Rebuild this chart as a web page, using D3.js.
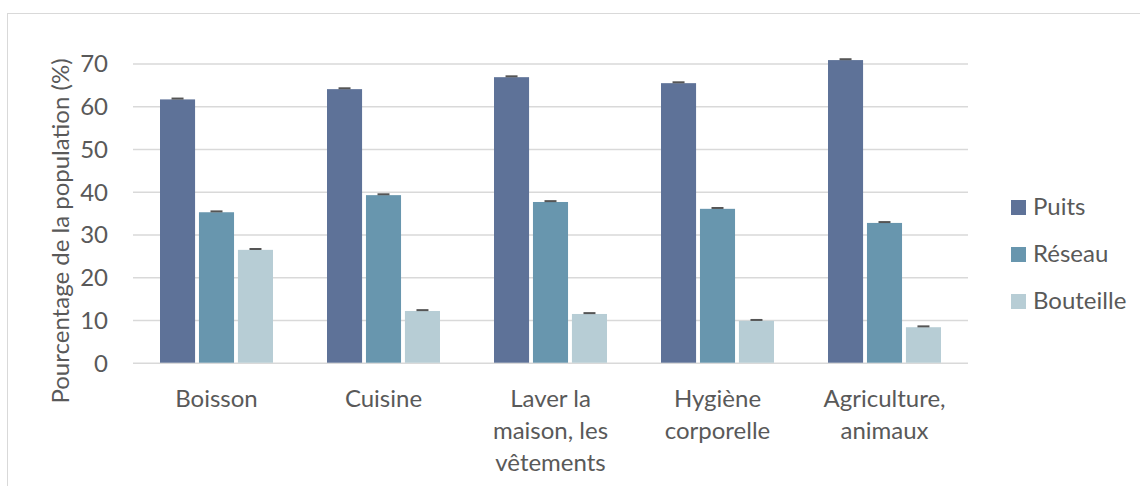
<!DOCTYPE html>
<html><head><meta charset="utf-8">
<script src="https://cdn.jsdelivr.net/npm/d3@7"></script>
<style>body{margin:0;background:#fff}svg{display:block}</style>
</head><body>
<svg id="c" width="1140" height="486"></svg>
<script>
const categories = ["Boisson", "Cuisine", "Laver la maison, les vêtements", "Hygiène corporelle", "Agriculture, animaux"];
const categoryLines = [["Boisson"], ["Cuisine"], ["Laver la", "maison, les", "vêtements"], ["Hygiène", "corporelle"], ["Agriculture,", "animaux"]];
const seriesNames = ["Puits", "Réseau", "Bouteille"];
const puits = [61.6, 64.0, 66.8, 65.4, 70.8];
const reseau = [35.2, 39.2, 37.6, 36.0, 32.7];
const bouteille = [26.4, 12.1, 11.4, 9.8, 8.3];
const errors = [0.2, 0.2, 0.2];
const yTicks = [0, 10, 20, 30, 40, 50, 60, 70];
const colors = ["#5e7298", "#6896ae", "#b7cdd5"];
const yTitle = "Pourcentage de la population (%)";

const seriesValues = [puits, reseau, bouteille];
const svg = d3.select("#c");
const FONT = "Lato, 'Open Sans', sans-serif";
const FS = "24px";
const textColor = "#595959";

// frame
svg.append("rect").attr("x", 7.5).attr("y", 13.5).attr("width", 1150).attr("height", 500)
  .attr("fill", "none").attr("stroke", "#d9d9d9").attr("stroke-width", 1);

const x0 = d3.scaleBand().domain(categories).range([133, 968]).paddingInner(0).paddingOuter(0);
const x1 = d3.scaleBand().domain(seriesNames).range([0, 113]).paddingInner(0.1).paddingOuter(0);
const y = d3.scaleLinear().domain([0, 70]).range([362.7, 63.5]);

// gridlines
const yAxis = d3.axisLeft(y).tickValues(yTicks).tickSize(-(968 - 133)).tickPadding(25);
const gy = svg.append("g").attr("transform", "translate(133,0)").call(yAxis);
gy.select(".domain").remove();
gy.selectAll(".tick line").attr("stroke", "#d9d9d9").attr("stroke-width", 1.5);
gy.selectAll(".tick text").attr("fill", textColor).style("font-family", FONT).style("font-size", FS).attr("dy", "0.35em");

// bars
const groupOffset = (x0.bandwidth() - 113) / 2;
categories.forEach((cat, i) => {
  const g = svg.append("g").attr("transform", `translate(${x0(cat) + groupOffset},0)`);
  seriesNames.forEach((s, j) => {
    const v = seriesValues[j][i];
    g.append("rect").attr("x", x1(s)).attr("y", y(v)).attr("width", x1.bandwidth())
      .attr("height", y(0) - y(v)).attr("fill", colors[j]);
    const cx = x1(s) + x1.bandwidth() / 2;
    g.append("line").attr("x1", cx - 6).attr("x2", cx + 6).attr("y1", y(v + errors[j])).attr("y2", y(v + errors[j]))
      .attr("stroke", "#555").attr("stroke-width", 2);
  });
});

// x labels
categories.forEach((cat, i) => {
  const t = svg.append("text").attr("x", x0(cat) + x0.bandwidth() / 2).attr("y", 407)
    .attr("text-anchor", "middle").attr("fill", textColor).style("font-family", FONT).style("font-size", FS);
  categoryLines[i].forEach((ln, k) => {
    t.append("tspan").attr("x", x0(cat) + x0.bandwidth() / 2).attr("y", 407 + k * 32).text(ln);
  });
});

// y title
svg.append("text").attr("transform", "translate(69,231) rotate(-90)").attr("text-anchor", "middle")
  .attr("fill", textColor).style("font-family", FONT).style("font-size", FS).text(yTitle);

// legend
seriesNames.forEach((s, j) => {
  const ly = 207 + j * 47;
  svg.append("rect").attr("x", 1011).attr("y", ly - 7).attr("width", 15).attr("height", 15).attr("fill", colors[j]);
  svg.append("text").attr("x", 1033).attr("y", ly).attr("dy", "0.35em").attr("fill", textColor)
    .style("font-family", FONT).style("font-size", FS).text(s);
});
</script>
</body></html>
